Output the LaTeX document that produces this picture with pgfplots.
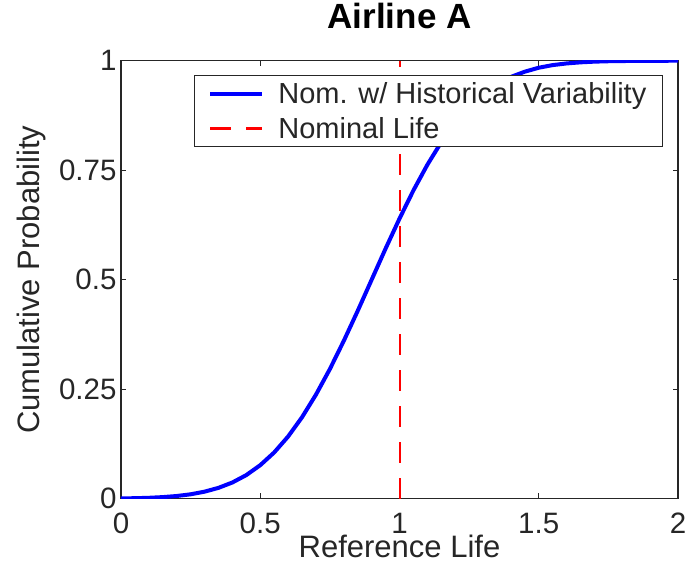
\documentclass[border=0pt]{standalone}
\usepackage{fontspec}
\setmainfont{Liberation Sans}
\usepackage{pgfplots}
\pgfplotsset{compat=1.18}
\definecolor{mblue}{RGB}{0,0,255}
\definecolor{mred}{RGB}{255,0,0}
\begin{document}
\begin{tikzpicture}
\begin{axis}[
  scale only axis,
  width=557pt, height=438pt,
  xmin=0, xmax=2, ymin=0, ymax=1,
  xtick={0,0.5,1,1.5,2},
  xticklabels={0,0.5,1,1.5,2},
  ytick={0,0.25,0.5,0.75,1},
  yticklabels={0,0.25,0.5,0.75,1},
  tick align=inside,
  major tick length=5.5pt,
  axis line style={line width=1.2pt, black!85},
  every tick/.style={line width=1.2pt, black!85},
  tick label style={font=\fontsize{29.5}{31}\selectfont, text=black!85},
  xticklabel style={anchor=base, yshift=-34.5pt, inner sep=0pt},
  yticklabel style={xshift=-1pt},
  xlabel={Reference Life},
  ylabel={Cumulative Probability},
  label style={font=\fontsize{31}{33}\selectfont, text=black!85},
  xlabel style={at={(axis description cs:0.5,-0.1340)}, anchor=base, inner sep=0pt},
  ylabel style={at={(axis description cs:-0.160,0.5)}, anchor=center, rotate=0},
  title={Airline A},
  title style={font=\fontsize{35}{37}\selectfont\bfseries, at={(axis description cs:0.5,1.088)}, anchor=center},
  legend style={at={(rel axis cs:0.973,0.967)}, anchor=north east,
    font=\fontsize{29}{31}\selectfont, text=black!85,
    draw=black!85, line width=1.2pt, fill=white,
    inner xsep=14pt, inner ysep=5pt, row sep=8pt,
    /tikz/every odd column/.append style={column sep=12pt}},
  legend cell align=left,
  legend image code/.code={\draw[#1] (0pt,0pt) -- (52pt,0pt);},
]
\addplot[color=mblue, line width=4pt, line join=round] coordinates {
(0,0.0007) (0.05,0.0012) (0.1,0.0021) (0.15,0.0037) (0.2,0.0062)
(0.25,0.0101) (0.3,0.0161) (0.35,0.0248) (0.4,0.0371) (0.45,0.054)
(0.5,0.0766) (0.55,0.1056) (0.6,0.142) (0.65,0.186) (0.7,0.2376)
(0.75,0.296) (0.8,0.3605) (0.85,0.429) (0.9,0.5) (0.95,0.571)
(1.0,0.6395) (1.05,0.704) (1.1,0.7624) (1.15,0.814) (1.2,0.858)
(1.25,0.8944) (1.3,0.9234) (1.35,0.946) (1.4,0.963) (1.45,0.975)
(1.5,0.984) (1.55,0.990) (1.6,0.9938) (1.65,0.9963) (1.7,0.9979)
(1.75,0.9988) (1.8,0.9993) (1.9,0.9998) (2.0,1.0)
};
\addlegendentry{Nom. w/ Historical Variability}
\addplot[color=mred, line width=2.2pt, dash pattern=on 21pt off 15pt] coordinates {(1.001,0) (1.001,1)};
\addlegendentry{Nominal Life}
\coordinate (sw) at (rel axis cs:0,0);
\end{axis}
\path ([shift={(-121pt,-77.5pt)}]sw) rectangle ++(688pt,575pt);
\end{tikzpicture}
\end{document}
